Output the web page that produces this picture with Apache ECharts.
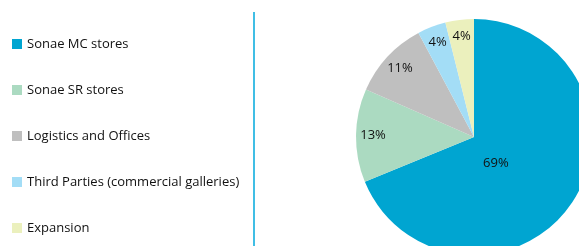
<!DOCTYPE html>
<html><head><meta charset="utf-8">
<script src="https://cdn.jsdelivr.net/npm/echarts@6/dist/echarts.min.js"></script>
<style>html,body{margin:0;padding:0;background:#fff}#c{width:579px;height:246px}</style>
</head><body><div id="c"></div>
<script>
const categories = ['Sonae MC stores','Sonae SR stores','Logistics and Offices','Third Parties (commercial galleries)','Expansion'];
const values = [68.8, 12.8, 10.6, 3.9, 3.9];
const colors = ['#00A5D1','#ABDAC1','#BFBFBF','#A3DDF6','#EBF0BD'];

const data = categories.map((n,i)=>({name:n, value:values[i], itemStyle:{color:colors[i]}}));
const chart = echarts.init(document.getElementById('c'));
const font = 'Open Sans';
chart.setOption({
  animation:false,
  legend:{
    orient:'vertical', left:7, top:32,
    icon:'rect', itemWidth:10, itemHeight:10, itemGap:32,
    data:categories,
    textStyle:{fontFamily:font, fontSize:13, color:'#111', lineHeight:14},
    selectedMode:false
  },
  graphic:[{type:'line', shape:{x1:254,y1:12,x2:254,y2:246}, style:{stroke:'#00A8DC', lineWidth:1.5}}],
  series:[
    {type:'pie', center:[474,137], radius:118, startAngle:90, clockwise:true,
     data:data, label:{show:false}, labelLine:{show:false}, silent:true},
    {type:'pie', center:[474,137], radius:196, startAngle:90, clockwise:true,
     data:categories.map((n,i)=>({name:n, value:values[i], itemStyle:{color:'rgba(0,0,0,0)'}})),
     label:{show:true, position:'inside', formatter:p=>Math.round(p.value)+'%', fontFamily:font, fontSize:13, color:'#111'},
     labelLine:{show:false}, silent:true,
     labelLayout:function(p){ if(p.dataIndex===0) return {dx:-62, dy:-30}; }
    }
  ]
});
</script></body></html>
